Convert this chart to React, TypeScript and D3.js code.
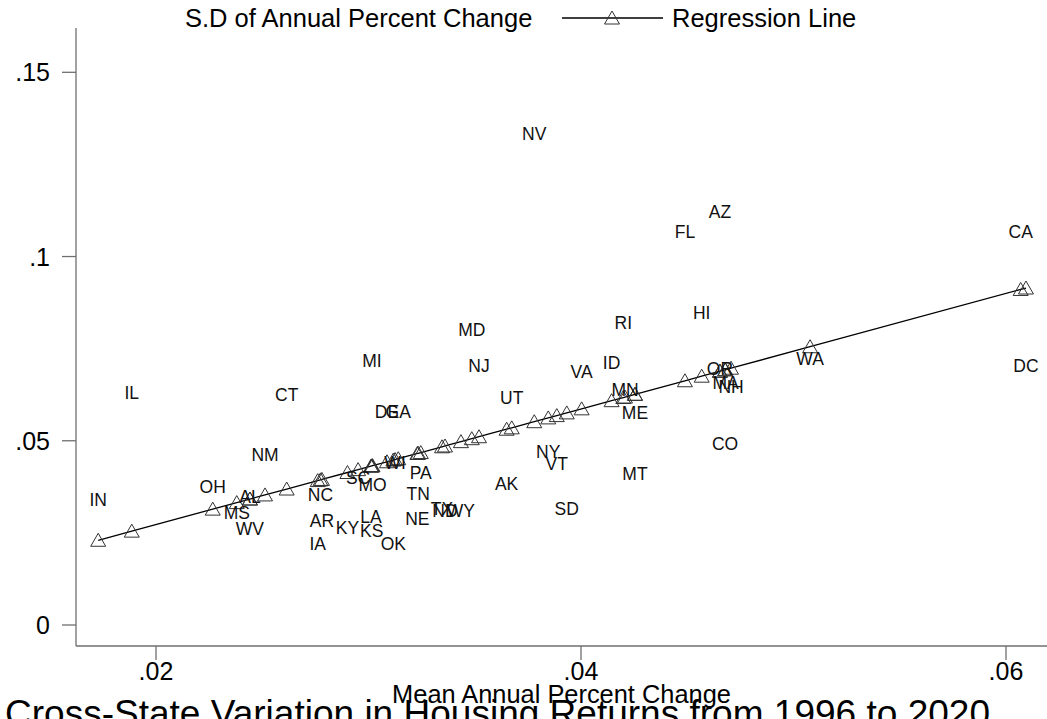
import React from "react";
import * as d3 from "d3";

// ---- Data ----
const states = [
  "NV", "AZ", "FL", "CA", "HI", "RI", "MD", "MI", "NJ", "ID", "VA", "WA", "DC",
  "IL", "CT", "OR", "MA", "NH", "MN", "UT", "ME", "DE", "GA", "NM", "NY", "VT",
  "CO", "MT", "AK", "SD", "OH", "AL", "MS", "WV", "NC", "SC", "MO", "PA", "TN",
  "IN", "AR", "IA", "KY", "KS", "LA", "NE", "OK", "ND", "TX", "WY", "WI",
];
const meanAnnualChange = [
  0.0378, 0.04654, 0.04489, 0.06069, 0.04568, 0.04199, 0.03486, 0.03016, 0.0352, 0.04144, 0.04003, 0.05078, 0.06094,
  0.01886, 0.02615, 0.04654, 0.0468, 0.04706, 0.04207, 0.03674, 0.04254, 0.03087, 0.0314, 0.02513, 0.03846, 0.03886,
  0.04678, 0.04254, 0.0365, 0.03933, 0.02267, 0.02442, 0.0238, 0.02442, 0.02774, 0.02951, 0.03019, 0.03246, 0.03234,
  0.01728, 0.02781, 0.02761, 0.02901, 0.03015, 0.03012, 0.0323, 0.03117, 0.0336, 0.03346, 0.03435, 0.03125,
];
const sdAnnualChange = [
  0.13336, 0.1121, 0.10667, 0.10667, 0.0847, 0.08199, 0.0802, 0.0716, 0.07025, 0.07114, 0.0687, 0.0722, 0.07033,
  0.06301, 0.06238, 0.06962, 0.06577, 0.06463, 0.06393, 0.0617, 0.05758, 0.05785, 0.05785, 0.04611, 0.047, 0.04367,
  0.04928, 0.04114, 0.03824, 0.03165, 0.03751, 0.0348, 0.03057, 0.02623, 0.03526, 0.04, 0.03811, 0.04131, 0.03572,
  0.03409, 0.02834, 0.02216, 0.02644, 0.02558, 0.02937, 0.02894, 0.02216, 0.03092, 0.03146, 0.031, 0.04394,
];

// Regression coefficients
const regIntercept = -0.0041;
const regSlope = 1.568;

const xTicks = [0.02, 0.04, 0.06];
const xTickLabels = [".02", ".04", ".06"];
const yTicks = [0, 0.05, 0.1, 0.15];
const yTickLabels = ["0", ".05", ".1", ".15"];

const legendLabels = ["S.D of Annual Percent Change", "Regression Line"];
const xAxisTitle = "Mean Annual Percent Change";
const chartTitle = "Cross-State Variation in Housing Returns from 1996 to 2020";

// ---- Layout ----
const W = 1047;
const H = 719;
const plotLeft = 76;
const plotRight = 1047;
const plotTop = 28;
const plotBottom = 646;
const FONT = "'Liberation Sans', Arial, sans-serif";
const AXIS_COLOR = "#6f6f6f";

export default function App() {
  const x = d3.scaleLinear().domain([0.02, 0.06]).range([156, 1006]);
  const y = d3.scaleLinear().domain([0, 0.15]).range([625, 72.3]);

  const fitted = meanAnnualChange
    .map((xi) => ({ x: xi, y: regIntercept + regSlope * xi }))
    .sort((a, b) => a.x - b.x);

  const linePath = d3
    .line<{ x: number; y: number }>()
    .x((d) => x(d.x))
    .y((d) => y(d.y))(fitted) as string;

  const tri = "M0,-7 L7.5,6 L-7.5,6 Z";

  return (
    <svg
      width={W}
      height={H}
      style={{ position: "absolute", left: 0, top: 0, background: "#fff" }}
      fontFamily={FONT}
    >
      <rect x={0} y={0} width={W} height={H} fill="#fff" />

      {/* Legend */}
      <text x={185} y={27} fontSize={25.5} fill="#000">
        {legendLabels[0]}
      </text>
      <line x1={562} x2={663} y1={18} y2={18} stroke="#000" strokeWidth={1.3} />
      <path d={tri} transform="translate(612,18)" fill="none" stroke="#333" strokeWidth={1} />
      <text x={672} y={27} fontSize={25.5} fill="#000">
        {legendLabels[1]}
      </text>

      {/* Axes */}
      <line x1={plotLeft} x2={plotLeft} y1={plotTop} y2={plotBottom} stroke={AXIS_COLOR} strokeWidth={1.3} />
      <line x1={plotLeft} x2={plotRight} y1={plotBottom} y2={plotBottom} stroke={AXIS_COLOR} strokeWidth={1.3} />

      {yTicks.map((t, i) => (
        <g key={"yt" + i}>
          <line x1={plotLeft - 14} x2={plotLeft} y1={y(t)} y2={y(t)} stroke={AXIS_COLOR} strokeWidth={1.3} />
          <text x={50} y={y(t)} dy="0.36em" textAnchor="end" fontSize={25} fill="#000">
            {yTickLabels[i]}
          </text>
        </g>
      ))}
      {xTicks.map((t, i) => (
        <g key={"xt" + i}>
          <line x1={x(t)} x2={x(t)} y1={plotBottom} y2={plotBottom + 14} stroke={AXIS_COLOR} strokeWidth={1.3} />
          <text x={x(t)} y={680} textAnchor="middle" fontSize={25} fill="#000">
            {xTickLabels[i]}
          </text>
        </g>
      ))}

      <text x={(plotLeft + plotRight) / 2} y={703} textAnchor="middle" fontSize={25.4} fill="#000">
        {xAxisTitle}
      </text>

      {/* Regression line */}
      <path d={linePath} fill="none" stroke="#000" strokeWidth={1.3} />
      {fitted.map((d, i) => (
        <path
          key={"tr" + i}
          d={tri}
          transform={`translate(${x(d.x)},${y(d.y)})`}
          fill="none"
          stroke="#333"
          strokeWidth={1}
        />
      ))}

      {/* State labels */}
      {states.map((s, i) => (
        <text
          key={s}
          x={x(meanAnnualChange[i])}
          y={y(sdAnnualChange[i])}
          dy="0.358em"
          textAnchor="middle"
          fontSize={17.5}
          fill="#111"
        >
          {s}
        </text>
      ))}

      {/* Title (cut off at the bottom like the reference) */}
      <text x={5} y={726} fontSize={36} fill="#000" textLength={985} lengthAdjust="spacingAndGlyphs">
        {chartTitle}
      </text>
    </svg>
  );
}
